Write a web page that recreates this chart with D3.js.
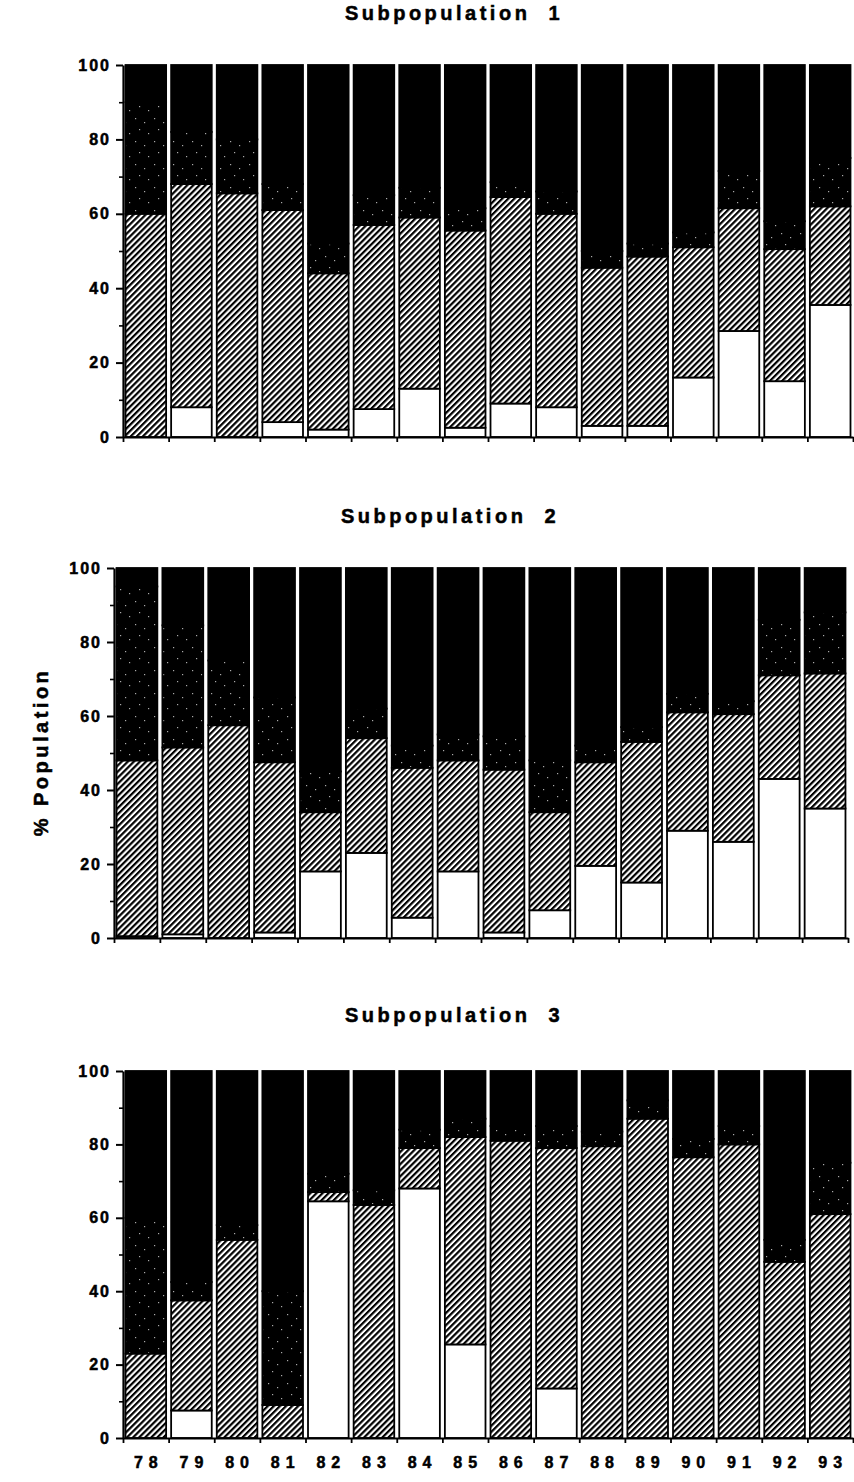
<!DOCTYPE html>
<html>
<head>
<meta charset="utf-8">
<script src="https://cdn.jsdelivr.net/npm/d3@7"></script>
<style>
  html, body { margin: 0; padding: 0; background: #fff; }
  svg { display: block; }
  text { font-family: "Liberation Sans", Arial, Helvetica, sans-serif; font-weight: bold; fill: #000; stroke: #000; stroke-width: 0.5px; }
</style>
</head>
<body>
<script>
// Survey years (category axis)
const years = ["78","79","80","81","82","83","84","85","86","87","88","89","90","91","92","93"];

// Y axis tick labels
const majorTicks = [0, 20, 40, 60, 80, 100];
const minorTicks = [10, 30, 50, 70, 90];

// Subpopulation 1 — % of population in each class (bottom to top)
const sub1White    = [0, 8, 0, 4, 2, 7.5, 13, 2.5, 9, 8, 3, 3, 16, 28.5, 15, 35.5];
const sub1Hatched  = [60, 60, 65.5, 57, 42, 49.5, 46, 53, 55.5, 52, 42.5, 45.5, 35, 33, 35.5, 26.5];
const sub1Stippled = [30, 14, 14.5, 7, 8, 8, 8, 6, 4, 6, 4.5, 3.5, 4, 10, 7.5, 13];
const sub1Black    = [10, 18, 20, 32, 48, 35, 33, 38.5, 31.5, 34, 50, 48, 45, 28.5, 42, 25];

// Subpopulation 2
const sub2White    = [0.5, 1, 0, 1.5, 18, 23, 5.5, 18, 1.5, 7.5, 19.5, 15, 29, 26, 43, 35];
const sub2Hatched  = [47.5, 50.5, 57.5, 46, 16, 31, 40.5, 30, 44, 26.5, 28, 38, 32, 34.5, 28, 36.5];
const sub2Stippled = [47, 33, 17.5, 17.5, 11, 8, 6, 7, 9, 14, 4.5, 4, 5, 3.5, 15, 16.5];
const sub2Black    = [5, 15.5, 25, 35, 55, 38, 48, 45, 45.5, 52, 48, 43, 34, 36, 14, 12];

// Subpopulation 3
const sub3White    = [0, 7.5, 0, 0, 64.5, 0, 68, 25.5, 0, 13.5, 0, 0, 0, 0, 0, 0];
const sub3Hatched  = [23, 30, 54, 9, 2.5, 63.5, 11, 56.5, 81, 65.5, 79.5, 87, 76.5, 80, 48, 61];
const sub3Stippled = [37, 5, 4, 31, 5, 4, 5, 5, 4, 6, 4, 5, 5, 5, 6, 14];
const sub3Black    = [40, 57.5, 42, 60, 28, 32.5, 16, 13, 15, 15, 16.5, 8, 18.5, 15, 46, 25];

const panelTitles = ["Subpopulation  1", "Subpopulation  2", "Subpopulation  3"];
const yAxisTitle = "% Population";

const keys = ["white", "hatched", "stippled", "black"];

function buildTable(white, hatched, stippled, black) {
  return years.map((yr, i) => ({
    year: yr, white: white[i], hatched: hatched[i], stippled: stippled[i], black: black[i]
  }));
}

const panels = [
  { title: panelTitles[0], rows: buildTable(sub1White, sub1Hatched, sub1Stippled, sub1Black),
    left: 123, right: 853, top: 65, bottom: 437, titleY: 20, titleX: 454 },
  { title: panelTitles[1], rows: buildTable(sub2White, sub2Hatched, sub2Stippled, sub2Black),
    left: 114, right: 848, top: 568, bottom: 938, titleY: 523, titleX: 450 },
  { title: panelTitles[2], rows: buildTable(sub3White, sub3Hatched, sub3Stippled, sub3Black),
    left: 123, right: 853, top: 1071, bottom: 1438, titleY: 1022, titleX: 454 }
];

const W = 854, H = 1482;
const svg = d3.select("body").append("svg").attr("width", W).attr("height", H);

// Fill patterns
const defs = svg.append("defs");
const hatch = defs.append("pattern")
  .attr("id", "hatch").attr("patternUnits", "userSpaceOnUse")
  .attr("width", 4.3).attr("height", 4.3)
  .attr("patternTransform", "rotate(45)");
hatch.append("rect").attr("width", 4.3).attr("height", 4.3).attr("fill", "#fff");
hatch.append("rect").attr("x", 0).attr("width", 2.2).attr("height", 4.3).attr("fill", "#000");

const stip = defs.append("pattern")
  .attr("id", "stipple").attr("patternUnits", "userSpaceOnUse")
  .attr("width", 19).attr("height", 23);
stip.append("rect").attr("width", 19).attr("height", 23).attr("fill", "#000");
[[2, 3], [11, 7], [6, 14], [15, 18]].forEach(([dx, dy]) => {
  stip.append("rect").attr("x", dx).attr("y", dy).attr("width", 1.2).attr("height", 1.2).attr("fill", "#aaa");
});

const fills = { white: "#fff", hatched: "url(#hatch)", stippled: "url(#stipple)", black: "#000" };

const stack = d3.stack().keys(keys);

panels.forEach((p, pi) => {
  const g = svg.append("g");

  const x = d3.scaleBand().domain(years).range([p.left, p.right])
    .paddingInner(0.11).paddingOuter(0.055);
  const y = d3.scaleLinear().domain([0, 100]).range([p.bottom, p.top]);

  const series = stack(p.rows);

  g.selectAll("g.layer").data(series).join("g")
    .attr("class", "layer")
    .attr("fill", d => fills[d.key])
    .selectAll("rect").data(d => d.filter(s => s[1] - s[0] > 0)).join("rect")
      .attr("x", d => x(d.data.year))
      .attr("width", x.bandwidth())
      .attr("y", d => y(d[1]))
      .attr("height", d => y(d[0]) - y(d[1]))
      .attr("stroke", "#000")
      .attr("stroke-width", 1.8);

  // Y axis: major and minor ticks
  const yAxis = d3.axisLeft(y).tickValues(majorTicks).tickSize(7).tickSizeOuter(0).tickPadding(5);
  const ya = g.append("g").attr("transform", `translate(${p.left},0)`).call(yAxis);
  ya.select(".domain").attr("stroke-width", 2.2);
  ya.selectAll(".tick line").attr("stroke-width", 2);
  ya.selectAll(".tick text")
    .attr("fill", "#000")
    .style("font-size", "16px").style("letter-spacing", "2px");

  const yMinor = d3.axisLeft(y).tickValues(minorTicks).tickSize(4).tickSizeOuter(0).tickFormat("");
  const ym = g.append("g").attr("transform", `translate(${p.left},0)`).call(yMinor);
  ym.select(".domain").remove();
  ym.selectAll(".tick line").attr("stroke-width", 1.6);

  // X axis baseline with ticks between bars
  const xb = d3.scaleLinear().domain([0, years.length]).range([p.left, p.right]);
  const xAxis = d3.axisBottom(xb).tickValues(d3.range(0, years.length + 1)).tickSize(5).tickSizeOuter(0).tickFormat("");
  const xa = g.append("g").attr("transform", `translate(0,${p.bottom})`).call(xAxis);
  xa.select(".domain").attr("stroke-width", 2.2);
  xa.selectAll(".tick line").attr("stroke-width", 1.8);

  // Panel title
  svg.append("text")
    .attr("x", p.titleX).attr("y", p.titleY)
    .attr("text-anchor", "middle")
    .style("font-size", "20px").style("letter-spacing", "3.5px")
    .style("white-space", "pre")
    .text(p.title);

  // Year labels under the last panel
  if (pi === panels.length - 1) {
    g.selectAll("text.year").data(years).join("text")
      .attr("class", "year")
      .attr("x", d => x(d) + x.bandwidth() / 2 + 3)
      .attr("y", p.bottom + 30)
      .attr("text-anchor", "middle")
      .style("font-size", "16px").style("letter-spacing", "6px")
      .text(d => d);
  }
});

// Shared y-axis title
svg.append("text")
  .attr("transform", "translate(48,752) rotate(-90)")
  .attr("text-anchor", "middle")
  .style("font-size", "20px").style("letter-spacing", "3.5px")
  .text(yAxisTitle);
</script>
</body>
</html>
